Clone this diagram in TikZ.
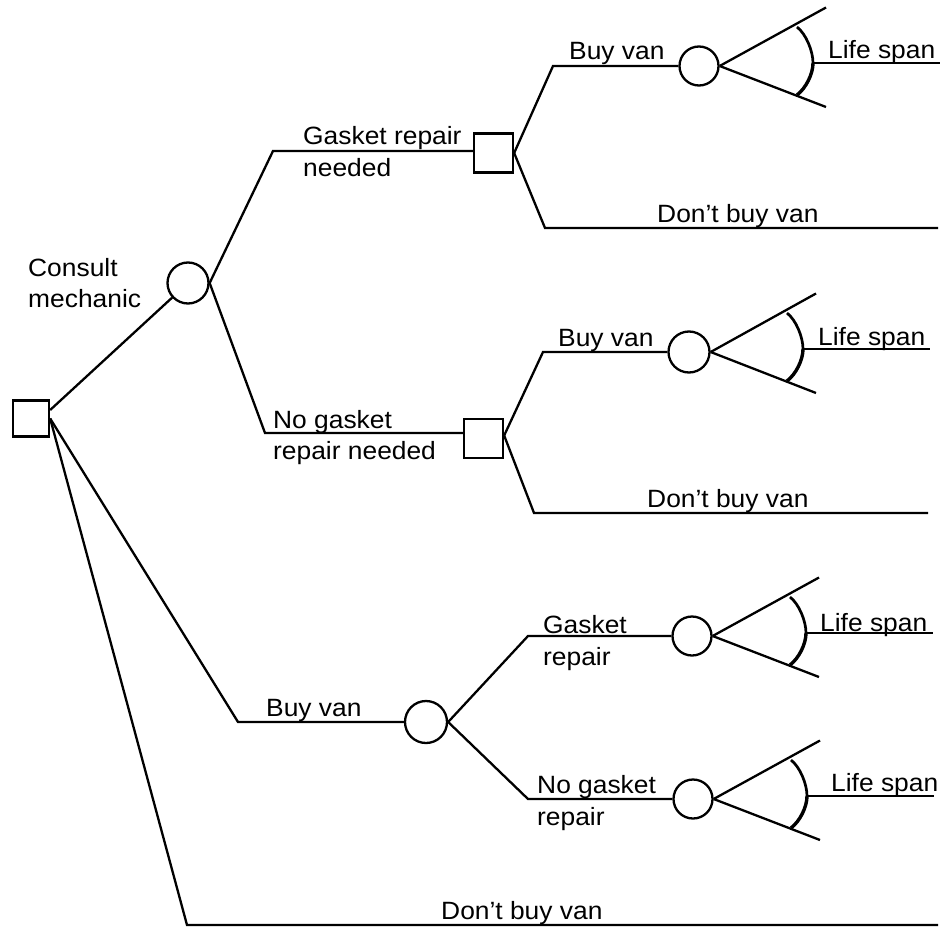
\documentclass[tikz,border=0pt]{standalone}
\usepackage{fontspec}
\setmainfont[FakeStretch=1.055]{Liberation Sans}
\usetikzlibrary{calc}

% Fan of outcomes behind a chance node: two rays, a bracket and the "life span" branch
\newcommand{\lifefan}[2]{%
  \coordinate (#2-up) at ($(#1.center)+(127,-58.5)$);
  \coordinate (#2-dn) at ($(#1.center)+(127,41)$);
  \coordinate (#2-at) at ($(#1.center)+(98,-39)$);
  \coordinate (#2-ap) at ($(#1.center)+(114,-3)$);
  \coordinate (#2-ab) at ($(#1.center)+(98,29)$);
  \coordinate (#2-end) at ($(#1.center)+(241,-3)$);
  \draw[branch] (#1.east) -- (#2-up);
  \draw[branch] (#1.east) -- (#2-dn);
  \draw[bracket] (#2-at) .. controls ($(#2-at)+(9,7)$) and ($(#2-ap)+(0,-12)$) .. (#2-ap);
  \draw[bracket, line width=3.4pt] (#2-ap) .. controls ($(#2-ap)+(0,11)$) and ($(#2-ab)+(9,-7)$) .. (#2-ab);
  \draw[branch] (#2-ap) -- (#2-end);
}

\begin{document}
\begin{tikzpicture}[x=1pt, y=-1pt,
  branch/.style={line width=2.3pt},
  bracket/.style={line width=2.7pt},
  decision/.style={draw, line width=2.3pt, rectangle, minimum size=39pt, inner sep=0pt},
  chance/.style={draw, line width=2.3pt, circle, minimum size=39pt, inner sep=0pt},
  lbl/.style={anchor=base west, inner sep=0pt, font=\fontsize{25pt}{30pt}\selectfont},
]
\useasboundingbox (0,0) rectangle (941,928);

% decision and chance nodes
\node[decision, minimum size=36pt] (root) at (31,418.5) {};
\node[chance, minimum size=41pt] (consult) at (188,283) {};
\node[decision] (gsq) at (493.5,153) {};
\node[decision] (ngsq) at (483.5,438.5) {};
\node[chance] (f1) at (699,66) {};
\node[chance, minimum size=41pt] (f2) at (689,352) {};
\node[chance, minimum size=42pt] (bv) at (426,722) {};
\node[chance] (f3) at (692,636) {};
\node[chance] (f4) at (693,799) {};

% bends and free ends of the branches
\coordinate (k1) at (273,151);
\coordinate (k2) at (265,433);
\coordinate (k3) at (553,66);
\coordinate (k4) at (545,228);
\coordinate (e1) at (938,228);
\coordinate (k5) at (543,352);
\coordinate (k6) at (534,513);
\coordinate (e2) at (928,513);
\coordinate (k7) at (238,722);
\coordinate (k8) at (528,636);
\coordinate (k9) at (528,799);
\coordinate (k10) at (187,925);
\coordinate (e3) at (938,925);

% branches
\draw[branch] ([yshift=8.5pt]root.east) -- (consult);
\draw[branch] (consult.east) -- (k1) -- ([yshift=2pt]gsq.west);
\draw[branch] (consult.east) -- (k2) -- ([yshift=5.5pt]ngsq.west);
\draw[branch] (gsq.east) -- (k3) -- (f1.west);
\draw[branch] (gsq.east) -- (k4) -- (e1);
\draw[branch] ([yshift=3pt]ngsq.east) -- (k5) -- (f2.west);
\draw[branch] ([yshift=3pt]ngsq.east) -- (k6) -- (e2);
\draw[branch] (root.east) -- (k7) -- (bv.west);
\draw[branch] (bv.east) -- (k8) -- (f3.west);
\draw[branch] (bv.east) -- (k9) -- (f4.west);
\draw[branch] (root.east) -- (k10) -- (e3);

\lifefan{f1}{a}
\lifefan{f2}{b}
\lifefan{f3}{c}
\lifefan{f4}{d}

% labels
\node[lbl] (t1a) at (28,276) {Consult};
\node[lbl] (t1b) at (28,307) {mechanic};
\node[lbl] (t2a) at (303,145) {Gasket repair};
\node[lbl] (t2b) at (303,176) {needed};
\node[lbl] (t3a) at (273,428) {No gasket};
\node[lbl] (t3b) at (273,459) {repair needed};
\node[lbl] (t4) at (569,60) {Buy van};
\node[lbl] (t5) at (657,222) {Don’t buy van};
\node[lbl] (t6) at (558,346) {Buy van};
\node[lbl] (t7) at (647,507) {Don’t buy van};
\node[lbl] (t8) at (266,716) {Buy van};
\node[lbl] (t9a) at (543,633) {Gasket};
\node[lbl] (t9b) at (543,665) {repair};
\node[lbl] (t10a) at (537,793) {No gasket};
\node[lbl] (t10b) at (537,825) {repair};
\node[lbl] (t11) at (441,919) {Don’t buy van};
\node[lbl] (l1) at (828,59) {Life span};
\node[lbl] (l2) at (818,345) {Life span};
\node[lbl] (l3) at (820,631) {Life span};
\node[lbl] (l4) at (831,791) {Life span};
\end{tikzpicture}
\end{document}
